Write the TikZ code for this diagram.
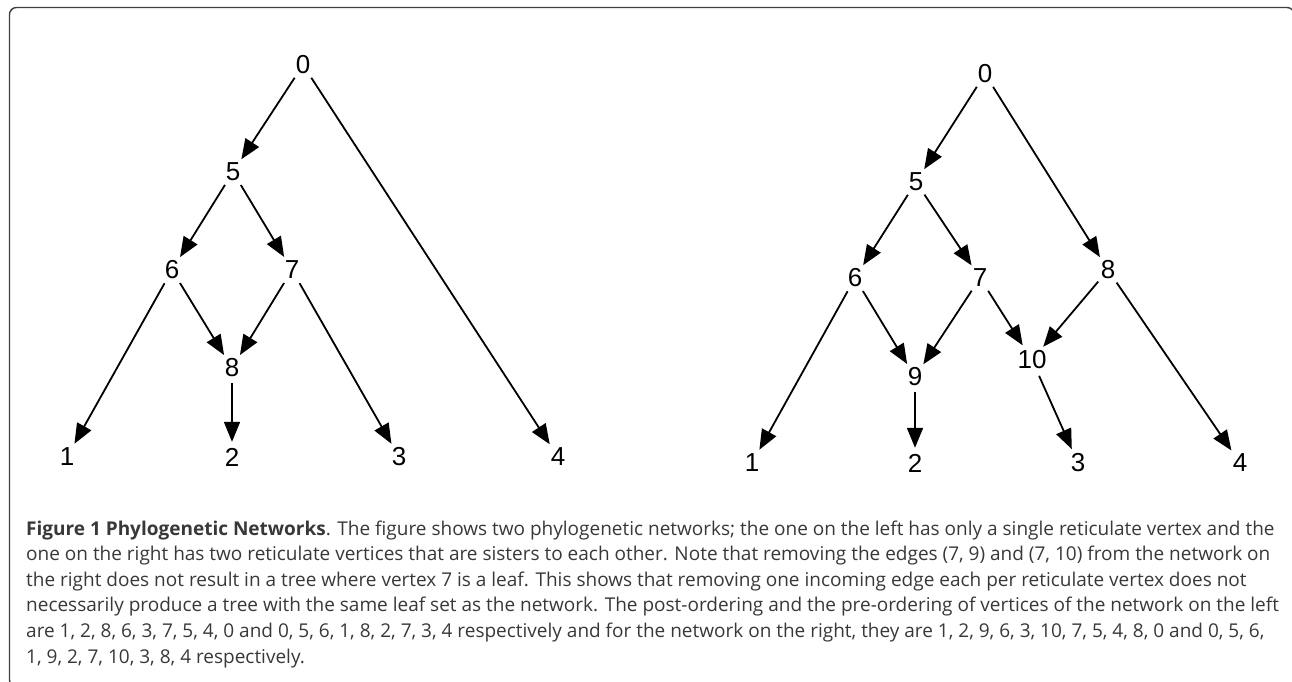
\documentclass[tikz,border=0pt]{standalone}
\usepackage{fontspec}
\setmainfont{Liberation Sans}
\newfontfamily\capfont{Open Sans}
\usetikzlibrary{arrows.meta}

\tikzset{v/.style={circle,minimum size=30pt,inner sep=0pt,font=\fontsize{26}{26}\selectfont}}
\tikzset{ed/.style={-{Triangle[length=20pt,width=16pt]},line width=1.8pt}}
\tikzset{captxt/.style={anchor=base west,inner sep=0pt,align=left,text=black!78,font=\capfont\fontsize{19}{25.6}\selectfont}}

\begin{document}
\begin{tikzpicture}[x=1pt,y=-1pt]
  \useasboundingbox (0,0) rectangle (1292,681);
  \draw[black!75,line width=1.4pt,rounded corners=7pt] (9.5,7.5) rectangle (1294,687);
  % left network
  \node[v] (l0) at (303,65) {0};
  \node[v] (l5) at (233,172) {5};
  \node[v] (l6) at (172,270) {6};
  \node[v] (l7) at (292,270) {7};
  \node[v] (l8) at (232,368) {8};
  \node[v] (l1) at (67,457) {1};
  \node[v] (l2) at (232,457) {2};
  \node[v] (l3) at (399,457) {3};
  \node[v] (l4) at (558,457) {4};
  \draw[ed] (l0) -- (l5);
  \draw[ed] (l0) -- (l4);
  \draw[ed] (l5) -- (l6);
  \draw[ed] (l5) -- (l7);
  \draw[ed] (l6) -- (l1);
  \draw[ed] (l6) -- (l8);
  \draw[ed] (l7) -- (l8);
  \draw[ed] (l7) -- (l3);
  \draw[ed] (l8) -- (l2);
  % right network
  \node[v] (r0) at (985,74) {0};
  \node[v] (r5) at (916,182) {5};
  \node[v] (r6) at (855,278) {6};
  \node[v] (r7) at (980,278) {7};
  \node[v] (r8) at (1108,270) {8};
  \node[v] (r9) at (915,377) {9};
  \node[v] (r10) at (1032,360) {10};
  \node[v] (r1) at (752,463) {1};
  \node[v] (r2) at (915,463) {2};
  \node[v] (r3) at (1078,463) {3};
  \node[v] (r4) at (1240,463) {4};
  \draw[ed] (r0) -- (r5);
  \draw[ed] (r0) -- (r8);
  \draw[ed] (r5) -- (r6);
  \draw[ed] (r5) -- (r7);
  \draw[ed] (r6) -- (r1);
  \draw[ed] (r6) -- (r9);
  \draw[ed] (r7) -- (r9);
  \draw[ed] (r7) -- (r10);
  \draw[ed] (r8) -- (r10);
  \draw[ed] (r8) -- (r4);
  \draw[ed] (r9) -- (r2);
  \draw[ed] (r10) -- (r3);
  % caption (base = last line)
  \node[captxt] (caption) at (26,663) {\textbf{Figure 1 Phylogenetic Networks}. The figure shows two phylogenetic networks; the one on the left has only a single reticulate vertex and the\\
    one on the right has two reticulate vertices that are sisters to each other. Note that removing the edges (7, 9) and (7, 10) from the network on\\
    the right does not result in a tree where vertex 7 is a leaf. This shows that removing one incoming edge each per reticulate vertex does not\\
    necessarily produce a tree with the same leaf set as the network. The post-ordering and the pre-ordering of vertices of the network on the left\\
    are 1, 2, 8, 6, 3, 7, 5, 4, 0 and 0, 5, 6, 1, 8, 2, 7, 3, 4 respectively and for the network on the right, they are 1, 2, 9, 6, 3, 10, 7, 5, 4, 8, 0 and 0, 5, 6,\\
    1, 9, 2, 7, 10, 3, 8, 4 respectively.};
\end{tikzpicture}
\end{document}
